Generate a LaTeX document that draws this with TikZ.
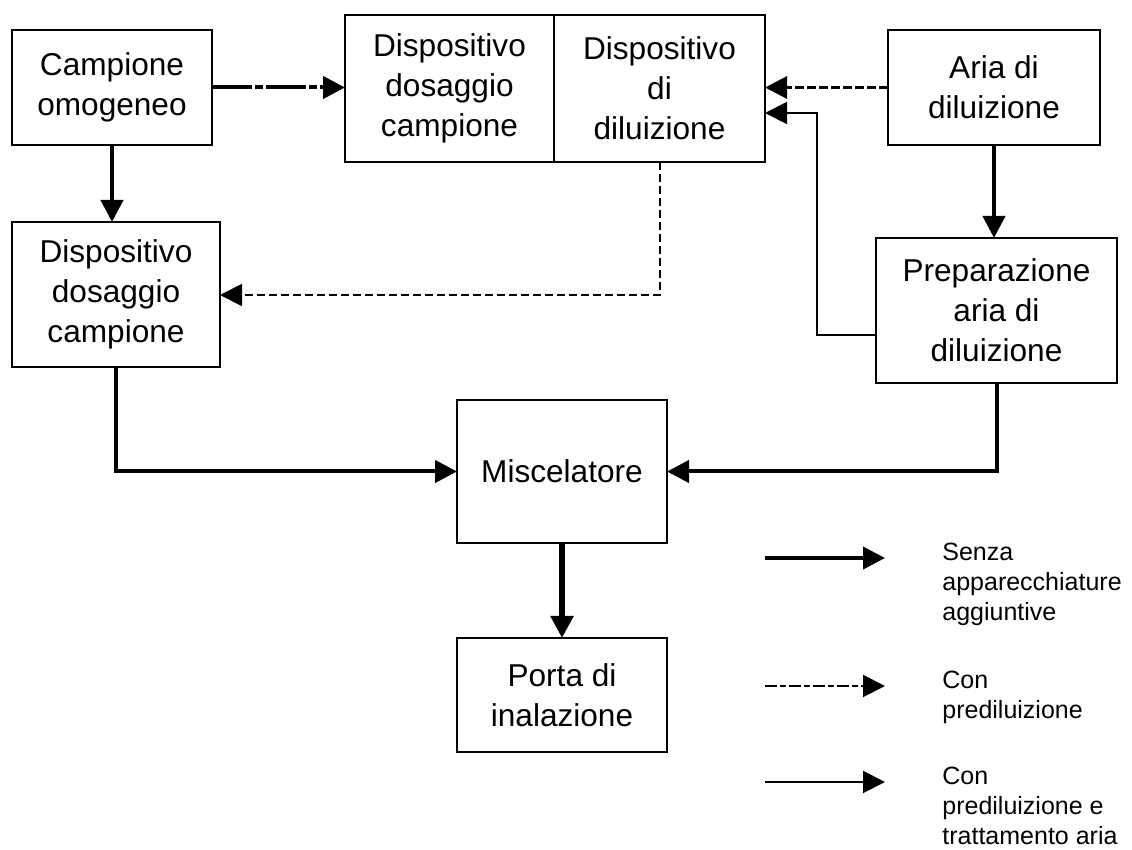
\documentclass[tikz,border=0pt]{standalone}
\usepackage{fontspec}
\setmainfont{Liberation Sans}
\usetikzlibrary{arrows.meta}
\begin{document}
\begin{tikzpicture}[x=0.5pt,y=-0.5pt,
  box/.style={draw,line width=1pt,inner sep=0pt,outer sep=0pt,align=center,
    font=\fontsize{15.8}{20}\selectfont},
  lgtext/.style={inner sep=0pt,anchor=north west,align=left,font=\fontsize{12.5}{15}\selectfont},
  tip/.style={-{Triangle[length=11pt,width=11pt]}},
  heavy/.style={tip,line width=2pt},
  heavier/.style={tip,line width=3pt},
  thinline/.style={tip,line width=1pt},
  dashdot/.style={tip,line width=2pt,dash pattern=on 20pt off 1.5pt on 4pt off 1.5pt},
  dashthick/.style={tip,line width=1.5pt,dash pattern=on 4.5pt off 1.5pt},
  dashthin/.style={tip,line width=1pt,dash pattern=on 4pt off 2pt},
  dashlegend/.style={tip,line width=1pt,dash pattern=on 6pt off 1.5pt on 3pt off 1.5pt}]
\fill[white] (0,0) rectangle (1132,850);
\useasboundingbox (0,0) rectangle (1132,850);

\node[box,minimum width=100pt,minimum height=57.5pt] (camp) at (112,87.5) {Campione\\omogeneo};
\node[box,minimum width=104.5pt,minimum height=73.5pt] (dispA) at (449.5,88.5) {Dispositivo\\dosaggio\\campione};
\node[box,minimum width=105.5pt,minimum height=73.5pt] (dispB) at (659.5,88.5) {Dispositivo\\di\\diluizione};
\node[box,minimum width=106pt,minimum height=57.5pt] (aria) at (994,87.5) {Aria di\\diluizione};
\node[box,minimum width=104pt,minimum height=72.5pt] (left) at (116,294.5) {Dispositivo\\dosaggio\\campione};
\node[box,minimum width=120.5pt,minimum height=72.5pt] (prep) at (996.5,310.5) {Preparazione\\aria di\\diluizione};
\node[box,minimum width=105pt,minimum height=71.5pt] (misc) at (562,471.5) {Miscelatore};
\node[box,minimum width=105pt,minimum height=57pt] (porta) at (562,695) {Porta di\\inalazione};

\coordinate (p1) at (817,335);
\coordinate (p2) at (817,113);
\coordinate (d1) at (660,295);

\draw[dashdot] (camp.east) -- (camp.east -| dispA.west);
\draw[dashthick] (aria.west) -- (aria.west -| dispB.east);
\draw[thinline] (prep.west |- p1) -- (p1) -- (p2) -- (dispB.east |- p2);
\draw[heavy] (camp.south) -- (camp.south |- left.north);
\draw[dashthin] (dispB.south -| d1) -- (d1) -- (d1 -| left.east);
\draw[heavy] (aria.south) -- (aria.south |- prep.north);
\draw[heavy] (left.south) -- (left.south |- misc.west) -- (misc.west);
\draw[heavy] (prep.south) -- (prep.south |- misc.east) -- (misc.east);
\draw[heavier] (misc.south) -- (porta.north);

% legend
\coordinate (l1a) at (765,558); \coordinate (l1b) at (885,558);
\coordinate (l2a) at (765,686); \coordinate (l2b) at (885,686);
\coordinate (l3a) at (765,782); \coordinate (l3b) at (885,782);
\draw[heavy] (l1a) -- (l1b);
\draw[dashlegend] (l2a) -- (l2b);
\draw[thinline] (l3a) -- (l3b);
\node[lgtext] (t1) at (942,543) {Senza\\apparecchiature\\aggiuntive};
\node[lgtext] (t2) at (942,671) {Con\\prediluizione};
\node[lgtext] (t3) at (942,767) {Con\\prediluizione e\\trattamento aria};
\end{tikzpicture}
\end{document}
